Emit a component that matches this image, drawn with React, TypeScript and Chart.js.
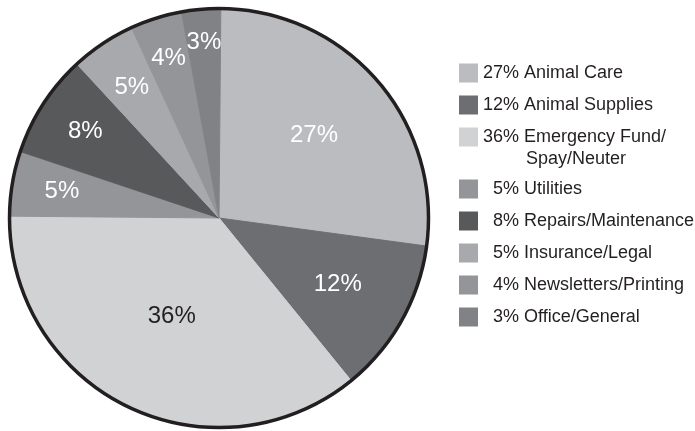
import React, { useEffect, useRef } from "react";
import { Chart, registerables } from "chart.js";

Chart.register(...registerables);

const categories = [
  "Animal Care",
  "Animal Supplies",
  "Emergency Fund/\nSpay/Neuter",
  "Utilities",
  "Repairs/Maintenance",
  "Insurance/Legal",
  "Newsletters/Printing",
  "Office/General",
];
const values = [27, 12, 36, 5, 8, 5, 4, 3];
const sliceColors = ["#bbbcbf", "#6d6e72", "#d1d2d4", "#949598", "#58595b", "#a7a9ac", "#939598", "#808285"];
const labelColors = ["#ffffff", "#ffffff", "#231f20", "#ffffff", "#ffffff", "#ffffff", "#ffffff", "#ffffff"];
const labelRadius = [0.6, 0.65, 0.52, 0.76, 0.76, 0.75, 0.8, 0.84];

const FONT = "'Liberation Sans', Arial, Helvetica, sans-serif";
const INK = "#231f20";

const pieDecor = {
  id: "pieDecor",
  afterDatasetsDraw(chart: any) {
    const ctx = chart.ctx;
    const meta = chart.getDatasetMeta(0);
    const arcs = meta.data as any[];
    if (!arcs.length) return;
    const { x, y, outerRadius } = arcs[0].getProps(["x", "y", "outerRadius"], true);
    ctx.save();
    // outer ring
    ctx.beginPath();
    ctx.arc(x, y, outerRadius, 0, Math.PI * 2);
    ctx.lineWidth = 3.5;
    ctx.strokeStyle = INK;
    ctx.stroke();
    // slice labels
    ctx.font = `24px ${FONT}`;
    ctx.textAlign = "center";
    ctx.textBaseline = "middle";
    arcs.forEach((arc, i) => {
      const p = arc.getProps(["startAngle", "endAngle"], true);
      const mid = (p.startAngle + p.endAngle) / 2;
      const r = outerRadius * labelRadius[i];
      ctx.fillStyle = labelColors[i];
      ctx.fillText(`${values[i]}%`, x + Math.cos(mid) * r, y + Math.sin(mid) * r);
    });
    ctx.restore();
  },
};

const legendDecor = {
  id: "legendDecor",
  afterDraw(chart: any) {
    const ctx = chart.ctx;
    ctx.save();
    ctx.font = `18px ${FONT}`;
    ctx.textBaseline = "middle";
    ctx.textAlign = "left";
    const swX = 459;
    const sw = 19;
    const textX = 483;
    const digitW = ctx.measureText("0").width;
    let rowY = 73;
    categories.forEach((cat, i) => {
      const lines = cat.split("\n");
      ctx.fillStyle = sliceColors[i];
      ctx.fillRect(swX, rowY - sw / 2, sw, sw);
      ctx.fillStyle = INK;
      const prefix = `${values[i]}% `;
      const x0 = textX + (values[i] < 10 ? digitW : 0);
      ctx.fillText(prefix + lines[0], x0, rowY);
      const indent = ctx.measureText(prefix).width + 2;
      for (let k = 1; k < lines.length; k++) {
        ctx.fillText(lines[k], x0 + indent, rowY + 22 * k);
      }
      rowY += 32 + 20 * (lines.length - 1);
    });
    ctx.restore();
  },
};

export default function App() {
  const ref = useRef<HTMLCanvasElement | null>(null);
  useEffect(() => {
    if (!ref.current) return;
    const chart = new Chart(ref.current, {
      type: "pie",
      data: {
        labels: categories.map((c) => c.replace("\n", " ")),
        datasets: [
          {
            data: values,
            backgroundColor: sliceColors,
            borderColor: sliceColors,
            borderWidth: 1,
            hoverOffset: 0,
            offset: 0,
            hoverBorderWidth: 1,
          },
        ],
      },
      options: {
        responsive: false,
        animation: false,
        rotation: 0.5,
        layout: { padding: { left: 9, top: 8, right: 266, bottom: 3 } },
        plugins: {
          legend: { display: false },
          tooltip: { enabled: false },
          title: { display: false },
        },
        events: [],
      },
      plugins: [pieDecor, legendDecor],
    });
    return () => chart.destroy();
  }, []);
  return (
    <div style={{ position: "absolute", left: 0, top: 0, width: 695, height: 431, background: "#ffffff" }}>
      <canvas ref={ref} width={695} height={431} />
    </div>
  );
}
